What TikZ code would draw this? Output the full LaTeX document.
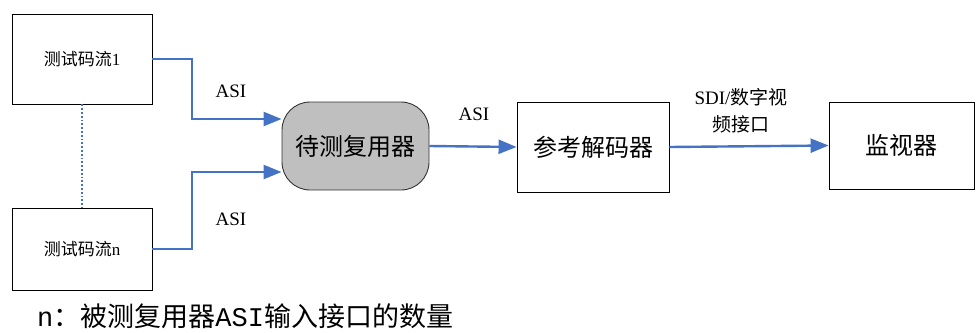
\documentclass[tikz,border=0pt]{standalone}
\usepackage{fontspec}
\setmainfont{Liberation Serif}
\newfontfamily\cjk{Noto Sans CJK SC}
\newfontfamily\monof{Liberation Mono}
\usetikzlibrary{arrows.meta}
\definecolor{lnblue}{HTML}{4472C4}
\definecolor{muxgray}{HTML}{BFBFBF}
\begin{document}
\begin{tikzpicture}[x=1pt,y=-1pt,
  box/.style={draw=black,line width=0.9pt,minimum width=#1,inner sep=0pt},
  link/.style={draw=lnblue,line width=2.4pt,-{Triangle[length=18pt,width=14pt]}},
  lbl/.style={font=\fontsize{19}{22}\selectfont,align=center,inner sep=0pt}]
\useasboundingbox (0,0) rectangle (977,332);
\node[box=140pt,minimum height=90pt,font=\fontsize{17}{20}\selectfont] (b1) at (82,59) {\cjk 测试码流\rmfamily 1};
\node[box=140pt,minimum height=82pt,font=\fontsize{17}{20}\selectfont] (bn) at (82,249) {\cjk 测试码流\rmfamily n};
\node[draw=black!80,fill=muxgray,line width=0.9pt,rounded corners=28pt,minimum width=147pt,minimum height=88pt,inner sep=0pt,font=\fontsize{24}{28}\selectfont\cjk] (mux) at (355.5,146) {待测复用器};
\node[box=152pt,minimum height=90pt,font=\fontsize{24}{28}\selectfont\cjk] (ref) at (593,147) {参考解码器};
\node[box=145pt,minimum height=87pt,font=\fontsize{24}{28}\selectfont\cjk] (mon) at (901.5,145.5) {监视器};
\coordinate (k1) at (192,59);
\coordinate (kn) at (192,249);
\draw[link] (b1.east) -- (k1) |- (mux.west |- 0,119);
\draw[link] (bn.east) -- (kn) |- (mux.west |- 0,172);
\draw[draw=lnblue,line width=1.8pt,dotted] (b1.south) -- (bn.north);
\draw[link] (mux.east) -- (ref.west);
\draw[link] (ref.east) -- (mon.west);
\node[lbl] (a1) at (231,91) {ASI};
\node[lbl] (a2) at (231,219) {ASI};
\node[lbl] (a3) at (474,114) {ASI};
\node[lbl] (a4) at (741,97) {SDI/{\cjk 数字视}};
\node[lbl] (a5) at (741,124) {\cjk 频接口};
\node[anchor=west,inner sep=0pt,font=\fontsize{27}{30}\selectfont] (note) at (37,316) {\monof n\cjk：被测复用器\monof ASI\cjk 输入接口的数量};
\end{tikzpicture}
\end{document}
